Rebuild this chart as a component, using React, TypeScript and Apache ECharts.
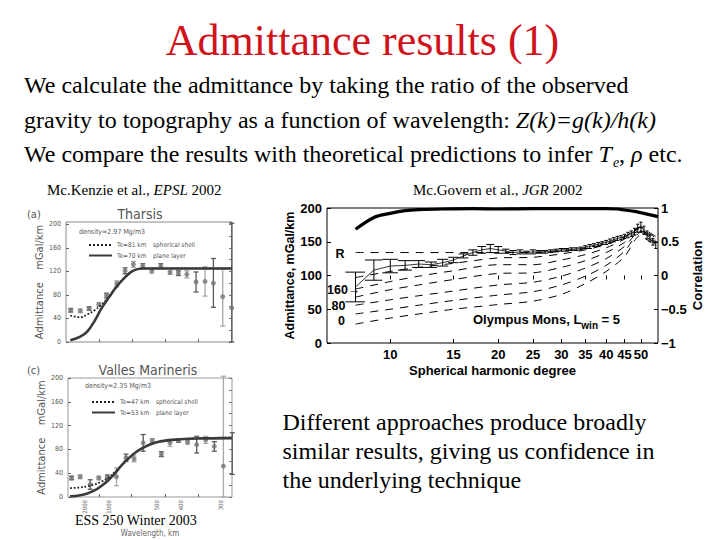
import React, { useEffect, useRef } from "react";
import * as echarts from "echarts";

// ---------- Left top: Tharsis (a) ----------
const thK = [0.2, 0.4, 0.585, 0.79, 0.95, 1.165, 1.339, 1.513, 1.71, 1.898, 2.087, 2.282, 2.457, 2.632, 2.827, 3.015, 3.19, 3.386, 3.575];
const thA = [54, 53, 57, 64, 79, 99, 121, 132, 129, 121, 129, 118, 117, 115, 102, 103, 100, 77, 58];
const thLo = [51, 50, 54, 61, 75, 94, 116, 127, 125, 117, 125, 115, 113, 109, 85, 78, 59, 27, 0];
const thHi = [57, 56, 60, 67, 83, 104, 126, 137, 133, 125, 133, 121, 121, 121, 119, 128, 142, 125, 202];
const curveK = [0.19, 0.4, 0.55, 0.7, 0.85, 1.0, 1.15, 1.3, 1.5, 1.7, 2.0, 2.5, 3.0, 3.58];
const thShell = [45, 42, 47, 54, 64, 77, 93, 107, 121, 125, 125, 125, 125, 125];
const thPlane = [3, 9, 18, 36, 58, 76, 93, 107, 121, 125, 125, 125, 125, 125];

// ---------- Left bottom: Valles Marineris (c) ----------
const vmK = [0.22, 0.4, 0.61, 0.79, 0.97, 1.16, 1.36, 1.53, 1.72, 1.91, 2.1, 2.28, 2.46, 2.65, 2.84, 3.03, 3.21, 3.4, 3.585];
const vmA = [32, 34, 21, 32, 34, 34, 66, 64, 91, 95, 72, 91, 95, 92, 88, 96, 85, 52, 73];
const vmLo = [29, 31, 13, 29, 31, 19, 60, 59, 77, 92, 68, 85, 92, 89, 74, 90, 77, 0, 38];
const vmHi = [35, 37, 29, 35, 37, 49, 72, 69, 105, 98, 76, 97, 98, 95, 102, 102, 93, 203, 108];
const vmShell = [15, 16, 18, 21, 26, 33, 44, 56, 71, 82, 92, 97, 99, 100];
const vmPlane = [1, 3, 6, 11, 19, 29, 42, 56, 71, 82, 92, 97, 98.5, 99];

const leftTickK = [0.79, 1.48, 2.18, 2.87];
const wavelengthTicks = [2000, 1000, 500, 400, 300];
const admitTicks = [0, 40, 80, 120, 160, 200];
const legendNames = ["Te=81 km", "Te=70 km", "Te=47 km", "Te=53 km"];
const legendNotes = ["spherical shell", "plane layer", "spherical shell", "plane layer"];

// ---------- Right: McGovern et al. ----------
const mgDeg = [8, 9, 10, 11, 12, 13, 14, 15, 16, 17, 18, 19, 20, 21, 22, 23, 24, 25, 26, 27, 28, 29, 30, 31, 32, 33, 34, 35, 36, 37, 38, 39, 40, 41, 42, 43, 44, 45, 46, 47, 48, 49, 50, 51, 52, 53, 54, 55];
const mgObs = [83, 108, 114, 115, 117, 116, 119, 123, 129, 134, 138, 140, 138, 136, 134, 135, 134, 135, 135, 135, 136, 137, 138, 138, 139, 139, 140, 142, 143, 145, 146, 148, 149, 151, 153, 155, 156, 158, 160, 162, 165, 170, 172, 167, 160, 155, 150, 145];
const mgErr = [22, 15, 10, 7, 5, 4, 5, 4, 3, 4, 5, 6, 5, 3, 3, 3, 2, 3, 2, 2, 2, 2, 2, 2, 2, 2, 2, 2, 3, 2, 3, 2, 3, 3, 3, 3, 3, 3, 4, 4, 5, 6, 7, 6, 6, 5, 5, 5];
const corrDeg = [8, 9, 10, 11, 12, 14, 17, 20, 25, 30, 35, 40, 43, 45, 48, 50, 52, 55, 55.8];
const corrVal = [0.685, 0.86, 0.92, 0.96, 0.975, 0.985, 0.99, 0.985, 0.99, 0.99, 0.99, 0.99, 0.985, 0.97, 0.95, 0.93, 0.91, 0.88, 0.87];
const modelDeg = [8, 10, 12, 15, 20, 25, 30, 35, 40, 45, 50, 52, 55];
const modelR = [134, 134, 134, 134, 134, 134, 136, 140, 147, 157, 172, 166, 158];
const model1 = [97, 106, 112, 118, 126, 127, 132, 138, 146, 157, 171, 164, 156];
const model2 = [80, 91, 99, 107, 116, 116, 123, 131, 141, 154, 170, 162, 154];
const model3 = [68, 79, 86, 94, 103, 104, 112, 122, 134, 149, 168, 160, 152];
const model4 = [56, 64, 70, 77, 86, 90, 99, 111, 125, 143, 166, 158, 150];
const model5 = [43, 50, 56, 63, 71, 76, 86, 99, 115, 136, 164, 156, 148];
const model6 = [28, 37, 43, 50, 57, 62, 72, 88, 106, 128, 160, 153, 145];
const degreeTicks = [10, 15, 20, 25, 30, 35, 40, 45, 50];
const degMin = 6.66;
const degMax = 55.8;

const SERIF = '"Liberation Serif", "Times New Roman", serif';
const SANS = '"Liberation Sans", Arial, sans-serif';
const NARROW = '"Liberation Sans Narrow", "DejaVu Sans Condensed", "Liberation Sans", sans-serif';

const L = (d: number) => Math.log10(d);

function leftErrorSeries(k: number[], a: number[], lo: number[], hi: number[], idx: number) {
  return {
    type: "custom",
    xAxisIndex: idx,
    yAxisIndex: idx,
    z: 3,
    data: k.map((v, i) => [v, a[i], lo[i], hi[i]]),
    renderItem: (params: any, api: any) => {
      const x = api.value(0);
      const pLo = api.coord([x, api.value(2)]);
      const pHi = api.coord([x, api.value(3)]);
      const c = params.dataIndex % 2 === 0 ? "#5a5a5a" : "#a8a8a8";
      const style = { stroke: c, lineWidth: 1.3 };
      const w = 2.5;
      return {
        type: "group",
        children: [
          { type: "line", shape: { x1: pLo[0], y1: pLo[1], x2: pHi[0], y2: pHi[1] }, style },
          { type: "line", shape: { x1: pLo[0] - w, y1: pLo[1], x2: pLo[0] + w, y2: pLo[1] }, style },
          { type: "line", shape: { x1: pHi[0] - w, y1: pHi[1], x2: pHi[0] + w, y2: pHi[1] }, style },
        ],
      };
    },
  };
}

function leftCurve(name: string, vals: number[], idx: number, dotted: boolean) {
  const color = dotted ? "#222" : "#3a3a3a";
  return {
    name,
    type: "line",
    xAxisIndex: idx,
    yAxisIndex: idx,
    data: curveK.map((k, i) => [k, vals[i]]),
    symbol: "none",
    smooth: 0.4,
    z: 5,
    itemStyle: { color },
    lineStyle: dotted ? { color, width: 1.8, type: "dotted" } : { color, width: 2.6 },
  };
}

function leftScatter(k: number[], a: number[], idx: number) {
  return {
    type: "scatter",
    xAxisIndex: idx,
    yAxisIndex: idx,
    z: 4,
    symbolSize: 5,
    itemStyle: { color: "#777" },
    data: k.map((v, i) => [v, a[i]]),
  };
}

function leftXAxis(idx: number, min: number, showLabels: boolean) {
  return {
    type: "value",
    gridIndex: idx,
    min,
    max: 3.58,
    axisLine: { show: false },
    splitLine: { show: false },
    axisTick: { show: true, inside: true, length: 3, customValues: leftTickK, lineStyle: { color: "#666" } },
    axisLabel: showLabels
      ? {
          show: true,
          customValues: wavelengthTicks.map((w) => 1000 / w),
          formatter: (v: number) => String(Math.round(1000 / v)),
          rotate: 90,
          fontSize: 6,
          margin: 3,
          color: "#666",
          fontFamily: NARROW,
        }
      : { show: false },
  };
}

function leftYAxis(idx: number, max: number) {
  return {
    type: "value",
    gridIndex: idx,
    min: 0,
    max,
    axisLine: { show: false },
    splitLine: { show: false },
    axisTick: { show: true, inside: true, length: 3, customValues: admitTicks, lineStyle: { color: "#666" } },
    axisLabel: { customValues: admitTicks, fontSize: 7, color: "#555", margin: 5, fontFamily: NARROW },
    name: "Admittance    mGal/km",
    nameLocation: "middle",
    nameGap: 16,
    nameTextStyle: { fontSize: 11, color: "#555", fontFamily: NARROW },
  };
}

function leftYAxisRight(idx: number, max: number) {
  return {
    type: "value",
    gridIndex: idx,
    position: "right",
    min: 0,
    max,
    interval: 20,
    axisLine: { show: false },
    splitLine: { show: false },
    axisTick: { show: true, inside: true, length: 3, lineStyle: { color: "#777" } },
    axisLabel: { show: false },
  };
}

function leftLegend(names: string[], left: number, top: number) {
  return {
    data: names,
    left,
    top,
    orient: "vertical",
    itemWidth: 23,
    itemHeight: 6,
    itemGap: 3.5,
    selectedMode: false,
    itemStyle: { opacity: 0 },
    formatter: (n: string) => `{a|${n}}{b|${legendNotes[legendNames.indexOf(n)]}}`,
    textStyle: {
      color: "#555",
      fontSize: 6.5,
      fontFamily: NARROW,
      rich: {
        a: { width: 36, fontSize: 6.5, fontFamily: NARROW, color: "#555" },
        b: { fontSize: 6.5, fontFamily: NARROW, color: "#555" },
      },
    },
  };
}

const modelSets = [modelR, model1, model2, model3, model4, model5, model6];

export default function App() {
  const ref = useRef<HTMLDivElement>(null);
  useEffect(() => {
    if (!ref.current) return;
    const chart = echarts.init(ref.current, null, { renderer: "svg" });
    const boldLbl = { fontSize: 13, fontWeight: "bold", color: "#000", fontFamily: SANS };

    const text = (t: string, x: number, y: number, style: any = {}) => ({
      type: "text",
      x,
      y,
      z: 100,
      style: { text: t, verticalAlign: "middle", fill: "#000", ...style },
    });

    const serif24 = { fontSize: 24, fontFamily: SERIF };
    const ital = { fontStyle: "italic", fontSize: 24, fontFamily: SERIF };

    const option: any = {
      animation: false,
      backgroundColor: "#fff",
      grid: [
        { left: 66, top: 222, width: 166, height: 120, show: true, borderColor: "#8a8a8a", borderWidth: 1 },
        { left: 68, top: 378, width: 164, height: 119, show: true, borderColor: "#9a9a9a", borderWidth: 1 },
        { left: 327, top: 208, width: 331, height: 135, show: true, borderColor: "#000", borderWidth: 1 },
      ],
      legend: [leftLegend(legendNames.slice(0, 2), 83, 236.5), leftLegend(legendNames.slice(2, 4), 86, 393.5)],
      xAxis: [
        leftXAxis(0, 0.1, false),
        leftXAxis(1, 0.145, true),
        {
          type: "value",
          gridIndex: 2,
          min: L(degMin),
          max: L(degMax),
          axisLine: { show: false },
          splitLine: { show: false },
          axisTick: { show: true, inside: true, length: 4, customValues: degreeTicks.map(L), lineStyle: { color: "#000" } },
          axisLabel: { ...boldLbl, customValues: degreeTicks.map(L), formatter: (v: number) => String(Math.round(10 ** v)), margin: 5 },
          name: "Spherical harmonic degree",
          nameLocation: "middle",
          nameGap: 21,
          nameTextStyle: { ...boldLbl },
        },
        {
          type: "value",
          gridIndex: 2,
          position: "top",
          min: L(degMin),
          max: L(degMax),
          axisLine: { show: false },
          splitLine: { show: false },
          axisTick: { show: true, inside: true, length: 4, customValues: degreeTicks.map(L), lineStyle: { color: "#000" } },
          axisLabel: { show: false },
        },
      ],
      yAxis: [
        leftYAxis(0, 204),
        leftYAxis(1, 200),
        {
          type: "value",
          gridIndex: 2,
          min: 0,
          max: 200,
          interval: 50,
          axisLine: { show: false },
          splitLine: { show: false },
          axisTick: { show: true, inside: true, length: 4, lineStyle: { color: "#000" } },
          axisLabel: { ...boldLbl, margin: 5 },
          name: "Admittance, mGal/km",
          nameLocation: "middle",
          nameGap: 29,
          nameTextStyle: { ...boldLbl, fontSize: 12.5 },
        },
        {
          type: "value",
          gridIndex: 2,
          position: "right",
          min: -1,
          max: 1,
          interval: 0.5,
          axisLine: { show: false },
          splitLine: { show: false },
          axisTick: { show: true, inside: true, length: 4, lineStyle: { color: "#000" } },
          axisLabel: { ...boldLbl, margin: 3, formatter: (v: number) => (v < 0 ? "\u2212" + Math.abs(v) : String(v)) },
          name: "Correlation",
          nameLocation: "middle",
          nameGap: 29,
          nameTextStyle: { ...boldLbl },
        },
        leftYAxisRight(0, 204),
        leftYAxisRight(1, 200),
      ],
      series: [
        leftErrorSeries(thK, thA, thLo, thHi, 0),
        leftScatter(thK, thA, 0),
        leftCurve(legendNames[0], thShell, 0, true),
        leftCurve(legendNames[1], thPlane, 0, false),
        leftErrorSeries(vmK, vmA, vmLo, vmHi, 1),
        leftScatter(vmK, vmA, 1),
        leftCurve(legendNames[2], vmShell, 1, true),
        leftCurve(legendNames[3], vmPlane, 1, false),
        ...modelSets.map((vals) => ({
          type: "line",
          xAxisIndex: 2,
          yAxisIndex: 2,
          symbol: "none",
          smooth: 0.3,
          data: modelDeg.map((d, i) => [L(d), vals[i]]),
          lineStyle: { color: "#000", width: 1, type: [8, 7] },
        })),
        {
          type: "line",
          xAxisIndex: 2,
          yAxisIndex: 2,
          symbol: "none",
          data: mgDeg.map((d, i) => [L(d), mgObs[i]]),
          lineStyle: { color: "#000", width: 0.8 },
        },
        {
          type: "custom",
          xAxisIndex: 2,
          yAxisIndex: 2,
          data: mgDeg.map((d, i) => [L(d), mgObs[i], mgObs[i] - mgErr[i], mgObs[i] + mgErr[i], L(d - 0.5), L(d + 0.5)]),
          renderItem: (params: any, api: any) => {
            const x = api.value(0);
            const pLo = api.coord([x, api.value(2)]);
            const pHi = api.coord([x, api.value(3)]);
            const l = api.coord([api.value(4), api.value(2)])[0];
            const r = api.coord([api.value(5), api.value(2)])[0];
            const style = { stroke: "#000", lineWidth: 1 };
            return {
              type: "group",
              children: [
                { type: "line", shape: { x1: pLo[0], y1: pLo[1], x2: pHi[0], y2: pHi[1] }, style },
                { type: "line", shape: { x1: l, y1: pLo[1], x2: r, y2: pLo[1] }, style },
                { type: "line", shape: { x1: l, y1: pHi[1], x2: r, y2: pHi[1] }, style },
              ],
            };
          },
        },
        {
          type: "line",
          xAxisIndex: 2,
          yAxisIndex: 3,
          symbol: "none",
          smooth: 0.3,
          data: corrDeg.map((d, i) => [L(d), corrVal[i]]),
          lineStyle: { color: "#000", width: 3.2 },
        },
      ],
      graphic: [
        text("Admittance results (1)", 362.5, 40, { align: "center", fontSize: 44, fontFamily: SERIF, fill: "#d0121b" }),
        text("We calculate the admittance by taking the ratio of the observed", 24, 85, serif24),
        text("gravity to topography as a function of wavelength: {i|Z(k)=g(k)/h(k)}", 24, 120, {
          ...serif24,
          rich: { i: ital },
        }),
        text("We compare the results with theoretical predictions to infer {i|T}{s|e}{n|, }{i|\u03c1}{n| etc.}", 24, 154, {
          ...serif24,
          rich: {
            i: { ...ital, lineHeight: 30 },
            n: { ...serif24, lineHeight: 30 },
            s: { fontStyle: "italic", fontSize: 14, fontFamily: SERIF, lineHeight: 14, verticalAlign: "bottom", padding: [0, 0, 0, 1] },
          },
        }),
        text("Mc.Kenzie et al., {i|EPSL} 2002", 47, 190, {
          fontSize: 15,
          fontFamily: SERIF,
          rich: { i: { fontStyle: "italic", fontSize: 15, fontFamily: SERIF } },
        }),
        text("Mc.Govern et al., {i|JGR} 2002", 413, 190, {
          fontSize: 15,
          fontFamily: SERIF,
          rich: { i: { fontStyle: "italic", fontSize: 15, fontFamily: SERIF } },
        }),
        text("Different approaches produce broadly", 282.5, 422, serif24),
        text("similar results, giving us confidence in", 282.5, 451, serif24),
        text("the underlying technique", 282.5, 480, serif24),
        text("(a)", 27, 214, { fontSize: 11, fontFamily: NARROW, fill: "#555" }),
        text("Tharsis", 140, 214, { align: "center", fontSize: 14, fontFamily: NARROW, fill: "#555" }),
        text("density=2.97 Mg/m3", 79, 231.5, { fontSize: 7, fontFamily: NARROW, fill: "#555" }),
        text("(c)", 27, 370, { fontSize: 11, fontFamily: NARROW, fill: "#555" }),
        text("Valles Marineris", 148, 370, { align: "center", fontSize: 14, fontFamily: NARROW, fill: "#555" }),
        text("density=2.35 Mg/m3", 85, 386, { fontSize: 7, fontFamily: NARROW, fill: "#555" }),
        text("Wavelength, km", 150, 533, { align: "center", fontSize: 8, fontFamily: NARROW, fill: "#666" }),
        text("ESS 250 Winter 2003", 75, 520, { fontSize: 14, fontFamily: SERIF }),
        text("R", 340, 254, { align: "center", fontSize: 12.5, fontWeight: "bold", fontFamily: SANS }),
        text("160\u2192", 327, 290, { fontSize: 12.5, fontWeight: "bold", fontFamily: SANS }),
        text("80", 338.5, 306, { align: "center", fontSize: 12.5, fontWeight: "bold", fontFamily: SANS }),
        text("0", 341.5, 321, { align: "center", fontSize: 12.5, fontWeight: "bold", fontFamily: SANS }),
        text("Olympus Mons, L{s|win}{n| = 5}", 473, 319, {
          fontSize: 13,
          fontWeight: "bold",
          fontFamily: SANS,
          rich: {
            n: { fontSize: 13, fontWeight: "bold", fontFamily: SANS, lineHeight: 22 },
            s: { fontSize: 10, fontWeight: "bold", fontFamily: SANS, lineHeight: 12, verticalAlign: "bottom" },
          },
        }),
      ],
    };
    chart.setOption(option);
    return () => chart.dispose();
  }, []);
  return <div ref={ref} style={{ position: "fixed", left: 0, top: 0, width: 720, height: 540, background: "#fff" }} />;
}
